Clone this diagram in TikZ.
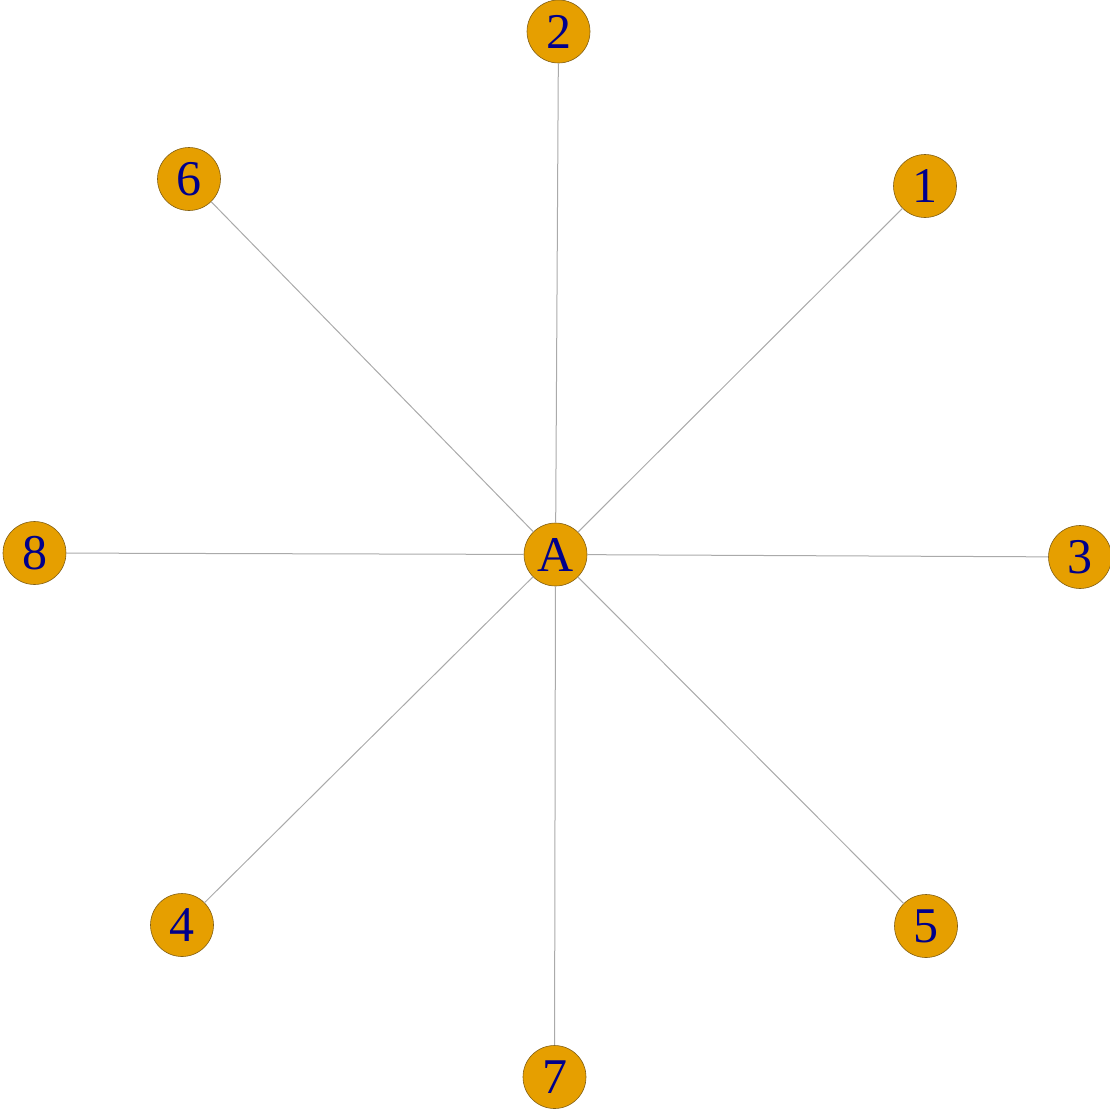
\documentclass[tikz,border=0pt]{standalone}
\usepackage{fontspec}
\setmainfont{Liberation Serif}
\begin{document}
\begin{tikzpicture}[x=1pt,y=-1pt,
  vtx/.style={circle,fill={rgb,255:red,230;green,159;blue,0},draw={rgb,255:red,130;green,95;blue,20},line width=0.6pt,minimum size=63pt,inner sep=0pt,text={rgb,255:red,0;green,0;blue,139},font=\fontsize{50}{54}\selectfont},
  edge/.style={draw={rgb,255:red,170;green,170;blue,170},line width=1pt}]
\useasboundingbox (0,0) rectangle (1110,1108);
\node[vtx] (A) at (555.5,554.5) {A};
\node[vtx] (n2) at (558.5,31.5) {2};
\node[vtx] (n6) at (189,179) {6};
\node[vtx] (n1) at (925,186) {1};
\node[vtx] (n8) at (34.5,553) {8};
\node[vtx] (n3) at (1080,557) {3};
\node[vtx] (n4) at (182,925) {4};
\node[vtx] (n5) at (926,926) {5};
\node[vtx] (n7) at (554.5,1077) {7};
\foreach \n in {n1,n2,n3,n4,n5,n6,n7,n8}{
  \path[edge] (A) -- (\n);
}
\end{tikzpicture}
\end{document}
